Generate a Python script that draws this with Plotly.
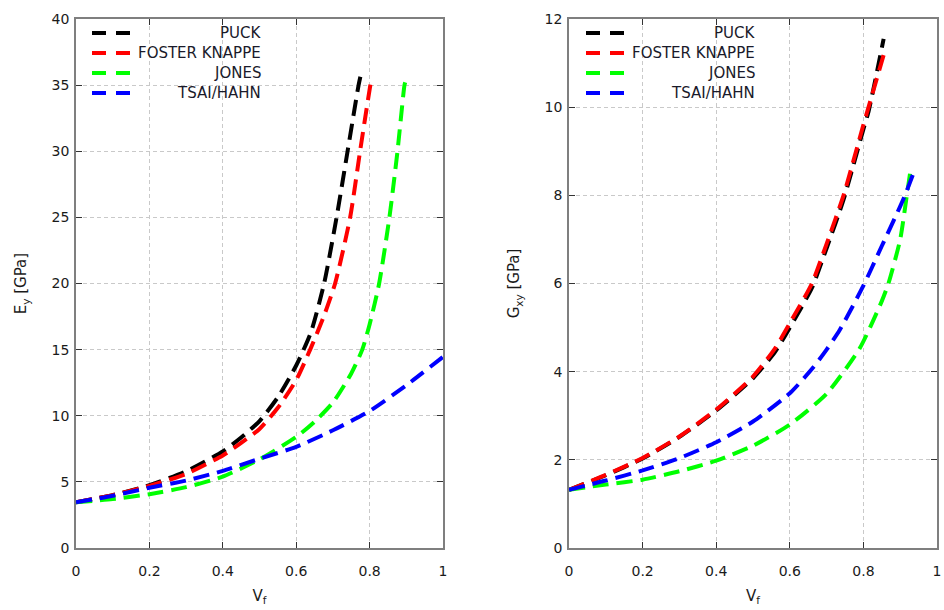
import plotly.graph_objects as go

# ---------------- data ----------------
# Left panel: transverse modulus E_y [GPa] vs fibre volume fraction V_f
puck_e_vf = [0, 0.1, 0.2, 0.3, 0.4, 0.45, 0.5, 0.55, 0.6, 0.64, 0.676, 0.71, 0.74, 0.77, 0.777]
puck_e = [3.45, 4.0, 4.75, 5.8, 7.3, 8.35, 9.6, 11.4, 13.8, 16.3, 20.0, 25.0, 30.0, 35.0, 35.9]

fk_e_vf = [0, 0.1, 0.2, 0.3, 0.4, 0.45, 0.5, 0.55, 0.6, 0.638, 0.675, 0.706, 0.747, 0.774, 0.802, 0.805]
fk_e = [3.45, 4.0, 4.7, 5.6, 7.0, 7.95, 9.0, 10.6, 12.7, 15.0, 17.5, 20.0, 25.0, 30.0, 35.0, 35.4]

jones_e_vf = [0, 0.1, 0.2, 0.3, 0.4, 0.5, 0.6, 0.65, 0.7, 0.75, 0.78, 0.8, 0.826, 0.854, 0.876, 0.895, 0.897]
jones_e = [3.45, 3.7, 4.07, 4.6, 5.4, 6.7, 8.4, 9.55, 11.0, 13.2, 15.0, 16.9, 20.0, 25.0, 30.0, 35.0, 35.2]

tsai_e_vf = [0, 0.1, 0.2, 0.3, 0.4, 0.5, 0.6, 0.7, 0.8, 0.9, 1.0]
tsai_e = [3.45, 3.95, 4.55, 5.1, 5.83, 6.75, 7.65, 8.9, 10.36, 12.3, 14.45]

# Right panel: shear modulus G_xy [GPa] vs V_f
puck_g_vf = [0, 0.1, 0.2, 0.3, 0.4, 0.5, 0.56, 0.6, 0.66, 0.7, 0.746, 0.8, 0.814, 0.855]
puck_g = [1.32, 1.65, 2.03, 2.52, 3.12, 3.85, 4.45, 5.0, 5.9, 6.8, 7.9, 9.5, 9.9, 11.55]

fk_g_vf = [0, 0.1, 0.2, 0.3, 0.4, 0.5, 0.56, 0.6, 0.66, 0.7, 0.746, 0.8, 0.814, 0.859]
fk_g = [1.32, 1.66, 2.04, 2.53, 3.14, 3.89, 4.53, 5.1, 6.0, 6.9, 8.0, 9.6, 10.0, 11.3]

jones_g_vf = [0, 0.1, 0.2, 0.3, 0.4, 0.5, 0.6, 0.7, 0.79, 0.85, 0.868, 0.9, 0.918, 0.929]
jones_g = [1.32, 1.44, 1.55, 1.74, 1.98, 2.32, 2.8, 3.5, 4.53, 5.6, 6.0, 7.0, 8.0, 8.62]

tsai_g_vf = [0, 0.1, 0.2, 0.3, 0.4, 0.5, 0.6, 0.664, 0.7, 0.736, 0.8, 0.85, 0.9, 0.913, 0.936]
tsai_g = [1.32, 1.53, 1.76, 2.04, 2.4, 2.87, 3.51, 4.1, 4.5, 4.95, 5.95, 6.85, 7.75, 8.0, 8.5]

series_names = ["PUCK", "FOSTER KNAPPE", "JONES", "TSAI/HAHN"]
series_colors = ["#000000", "#ff0000", "#00ff00", "#0000ff"]

x_tick_vals = [0, 0.2, 0.4, 0.6, 0.8, 1]
x_tick_text = ["0", "0.2", "0.4", "0.6", "0.8", "1"]
e_tick_vals = [0, 5, 10, 15, 20, 25, 30, 35, 40]
g_tick_vals = [0, 2, 4, 6, 8, 10, 12]

# ---------------- figure ----------------
left_data = [(puck_e_vf, puck_e), (fk_e_vf, fk_e), (jones_e_vf, jones_e), (tsai_e_vf, tsai_e)]
right_data = [(puck_g_vf, puck_g), (fk_g_vf, fk_g), (jones_g_vf, jones_g), (tsai_g_vf, tsai_g)]

fig = go.Figure()
line_dash = "16px,8px"
for (vx, vy), name, col in zip(left_data, series_names, series_colors):
    fig.add_trace(go.Scatter(
        x=vx, y=vy, mode="lines", name=name, showlegend=False,
        line=dict(color=col, width=4, dash=line_dash, shape="spline", smoothing=0.6),
        xaxis="x", yaxis="y", hovertemplate=name + "<br>Vf=%{x}<br>Ey=%{y} GPa<extra></extra>",
    ))
for (vx, vy), name, col in zip(right_data, series_names, series_colors):
    fig.add_trace(go.Scatter(
        x=vx, y=vy, mode="lines", name=name, showlegend=False,
        line=dict(color=col, width=4, dash=line_dash, shape="spline", smoothing=0.6),
        xaxis="x2", yaxis="y2", hovertemplate=name + "<br>Vf=%{x}<br>Gxy=%{y} GPa<extra></extra>",
    ))

W, H = 944, 610
font_fam = "DejaVu Sans, Verdana, sans-serif"
tick_font = dict(family=font_fam, size=14, color="#1a1a1a")
title_font = dict(family=font_fam, size=15, color="#1a1a1a")
legend_font = dict(family=font_fam, size=15, color="#1a1a2a")
axis_common = dict(
    showline=True, linecolor="#7f7f7f", linewidth=1.5, mirror="ticks",
    ticks="inside", ticklen=6, tickwidth=1, tickcolor="#333333",
    showgrid=True, gridcolor="#c9c9c9", gridwidth=1, griddash="4px,3px",
    zeroline=False, tickfont=tick_font, automargin=False,
)
y_dom = [1 - 548 / H, 1 - 19 / H]

fig.update_layout(
    width=W, height=H,
    margin=dict(l=0, r=0, t=0, b=0),
    paper_bgcolor="white", plot_bgcolor="white",
    showlegend=False,
    xaxis=dict(axis_common, domain=[76 / W, 443 / W], range=[0, 1],
               tickvals=x_tick_vals, ticktext=x_tick_text, ticklabelstandoff=9,
               title=dict(text="V<sub>f</sub>", font=title_font, standoff=13), anchor="y"),
    yaxis=dict(axis_common, domain=y_dom, range=[0, 40], tickvals=e_tick_vals,
               ticklabelstandoff=2,
               title=dict(text="E<sub>y</sub> [GPa]", font=title_font, standoff=21), anchor="x"),
    xaxis2=dict(axis_common, domain=[569 / W, 937 / W], range=[0, 1],
                tickvals=x_tick_vals, ticktext=x_tick_text, ticklabelstandoff=9,
                title=dict(text="V<sub>f</sub>", font=title_font, standoff=13), anchor="y2"),
    yaxis2=dict(axis_common, domain=y_dom, range=[0, 12], tickvals=g_tick_vals,
                ticklabelstandoff=2,
                title=dict(text="G<sub>xy</sub> [GPa]", font=title_font, standoff=21), anchor="x2"),
)

# Key (gnuplot style: dashed sample on the left, right-aligned label)
key_rows_y = [33, 53, 73, 93]          # px from top
key_panels = [(92, 133, 263), (586, 627, 757)]  # sample start, sample end, label right edge (px)
for s0, s1, txt_right in key_panels:
    for name, col, ry in zip(series_names, series_colors, key_rows_y):
        fig.add_shape(type="line", xref="paper", yref="paper",
                      x0=s0 / W, x1=s1 / W, y0=1 - ry / H, y1=1 - ry / H,
                      line=dict(color=col, width=4, dash="14px,10px"))
        fig.add_annotation(xref="paper", yref="paper", x=txt_right / W, y=1 - ry / H,
                           text=name, showarrow=False, xanchor="right", yanchor="middle",
                           font=legend_font)

fig.write_html("out.html")
